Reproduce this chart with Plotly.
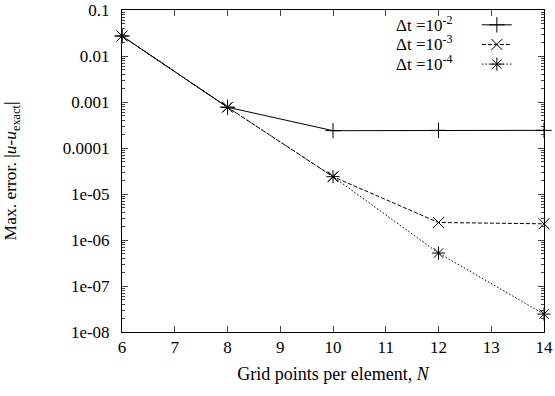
import plotly.graph_objects as go

N = [6, 8, 10, 12, 14]
err_dt2 = [0.0272, 7.7e-4, 2.38e-4, 2.42e-4, 2.42e-4]
err_dt3 = [0.0272, 7.7e-4, 2.38e-5, 2.4e-6, 2.25e-6]
err_dt4 = [0.0272, 7.7e-4, 2.38e-5, 5.2e-7, 2.45e-8]
labels = ["Δt =10<sup>-2</sup>", "Δt =10<sup>-3</sup>", "Δt =10<sup>-4</sup>"]
ytickvals = [1e-1, 1e-2, 1e-3, 1e-4, 1e-5, 1e-6, 1e-7, 1e-8]
yticktext = ["0.1", "0.01", "0.001", "0.0001", "1e-05", "1e-06", "1e-07", "1e-08"]

FONT = "Liberation Serif"
series = [
    (err_dt2, "solid", "cross-thin"),
    (err_dt3, "4px,2px", "x-thin"),
    (err_dt4, "1.5px,2px", "asterisk"),
]

fig = go.Figure()
for (vals, dash, sym), lab in zip(series, labels):
    fig.add_trace(go.Scatter(
        x=N, y=vals, mode="lines+markers", name=" ",
        line=dict(color="black", width=1, dash=dash),
        marker=dict(symbol=sym, size=11, color="black",
                    line=dict(color="black", width=1)),
        hovertext=lab, cliponaxis=False,
    ))

# legend text (gnuplot style: text to the left of the sample)
for i, lab in enumerate(labels):
    fig.add_annotation(
        text=lab, xref="paper", yref="paper", x=0.787, y=0.9565 - i * 0.0605,
        xanchor="right", yanchor="middle", showarrow=False,
        font=dict(family=FONT, size=17, color="black"),
    )

fig.update_layout(
    width=555, height=396,
    margin=dict(l=122, r=11, t=10, b=64, autoexpand=False),
    paper_bgcolor="white", plot_bgcolor="white",
    font=dict(family=FONT, size=17, color="black"),
    showlegend=True,
    legend=dict(x=0.957, y=1.0, xanchor="right", yanchor="top",
                bgcolor="rgba(0,0,0,0)", font=dict(size=12.8),
                itemwidth=30, tracegroupgap=0),
)
fig.update_xaxes(
    range=[6, 14], dtick=1, tick0=6, ticks="inside", ticklen=6,
    showline=True, linecolor="black", linewidth=1, mirror="ticks",
    showgrid=False, zeroline=False, automargin=False,
    title=dict(text="Grid points per element, <i>N</i>", standoff=10,
               font=dict(size=18)),
)
fig.update_yaxes(
    type="log", range=[-8, -1], tickvals=ytickvals, ticktext=yticktext,
    ticks="inside", ticklen=6, ticklabeloverflow="allow",
    minor=dict(ticks="inside", ticklen=3, dtick="D1", showgrid=False),
    showline=True, linecolor="black", linewidth=1, mirror="ticks",
    showgrid=False, zeroline=False, ticklabelstandoff=8, automargin=False,
    title=dict(text="Max. error. |<i>u</i>-<i>u</i><sub>exact</sub>|", standoff=41,
               font=dict(size=17.5)),
)
fig.write_html("out.html",
               config={"displayModeBar": False},
               post_script="document.body.style.margin='0';")
